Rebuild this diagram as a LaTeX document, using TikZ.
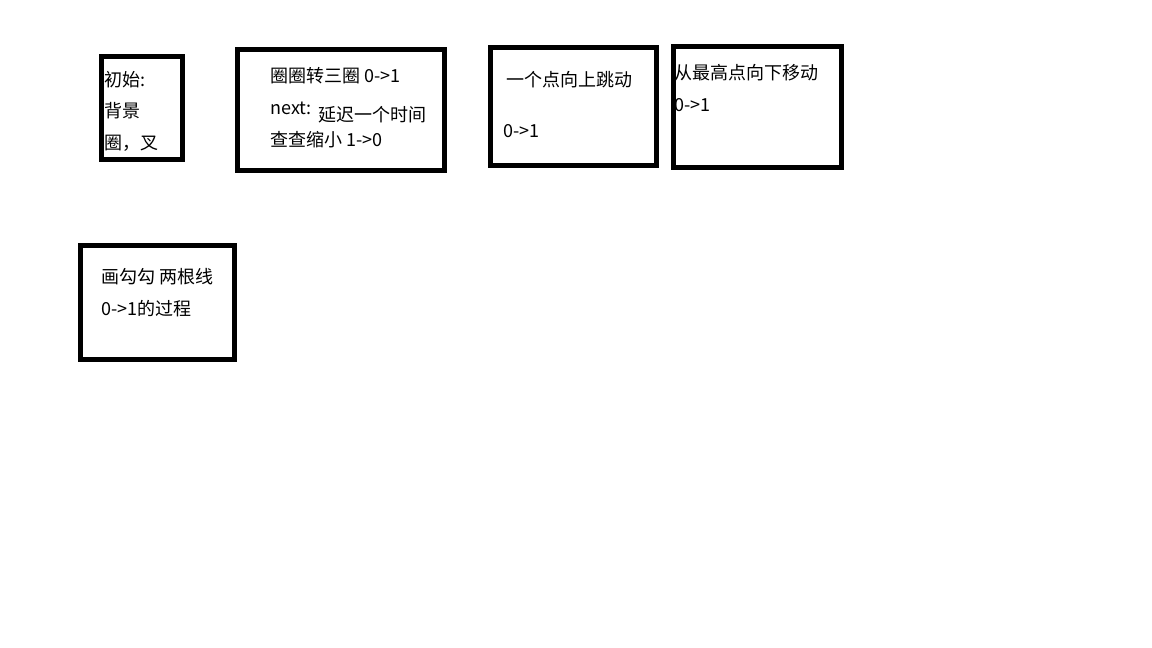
\documentclass[tikz,border=0pt]{standalone}
\usepackage{fontspec}
\setmainfont{Noto Sans CJK SC}
\usetikzlibrary{calc}

\tikzset{
  frame/.style={draw=black, line width=5pt, inner sep=0pt},
  note/.style={anchor=west, inner sep=0pt, font=\fontsize{18}{21}\selectfont}
}

\begin{document}
\begin{tikzpicture}[x=1pt, y=-1pt]
    \useasboundingbox (0,0) rectangle (1152,648);

    % Boxes
    \node[frame, minimum width=81pt, minimum height=103pt] (start) at (142,108) {};
    \node[frame, minimum width=207pt, minimum height=121pt] (spin) at (341,110) {};
    \node[frame, minimum width=166pt, minimum height=118pt] (jump) at (573.5,106.5) {};
    \node[frame, minimum width=168pt, minimum height=121pt] (fall) at (757.5,107) {};
    \node[frame, minimum width=154pt, minimum height=114pt] (check) at (157.5,302.5) {};

    % Texts
    \node[note] (start1) at (104,80) {初始:};
    \node[note] (start2) at (104,111) {背景};
    \node[note] (start3) at (104,143) {圈，叉};

    \node[note] (spin1) at (270,76) {圈圈转三圈 0->1};
    \node[note] (spin2) at (270,108) {next:};
    \node[note] (spin3) at (318,115) {延迟一个时间};
    \node[note] (spin4) at (270,140) {查查缩小 1->0};

    \node[note] (jump1) at (506,80) {一个点向上跳动};
    \node[note] (jump2) at (503,131) {0->1};

    \node[note] (fall1) at (674,73) {从最高点向下移动};
    \node[note] (fall2) at (674,105) {0->1};

    \node[note] (check1) at (101,277) {画勾勾 两根线};
    \node[note] (check2) at (101,309) {0->1的过程};
\end{tikzpicture}
\end{document}
